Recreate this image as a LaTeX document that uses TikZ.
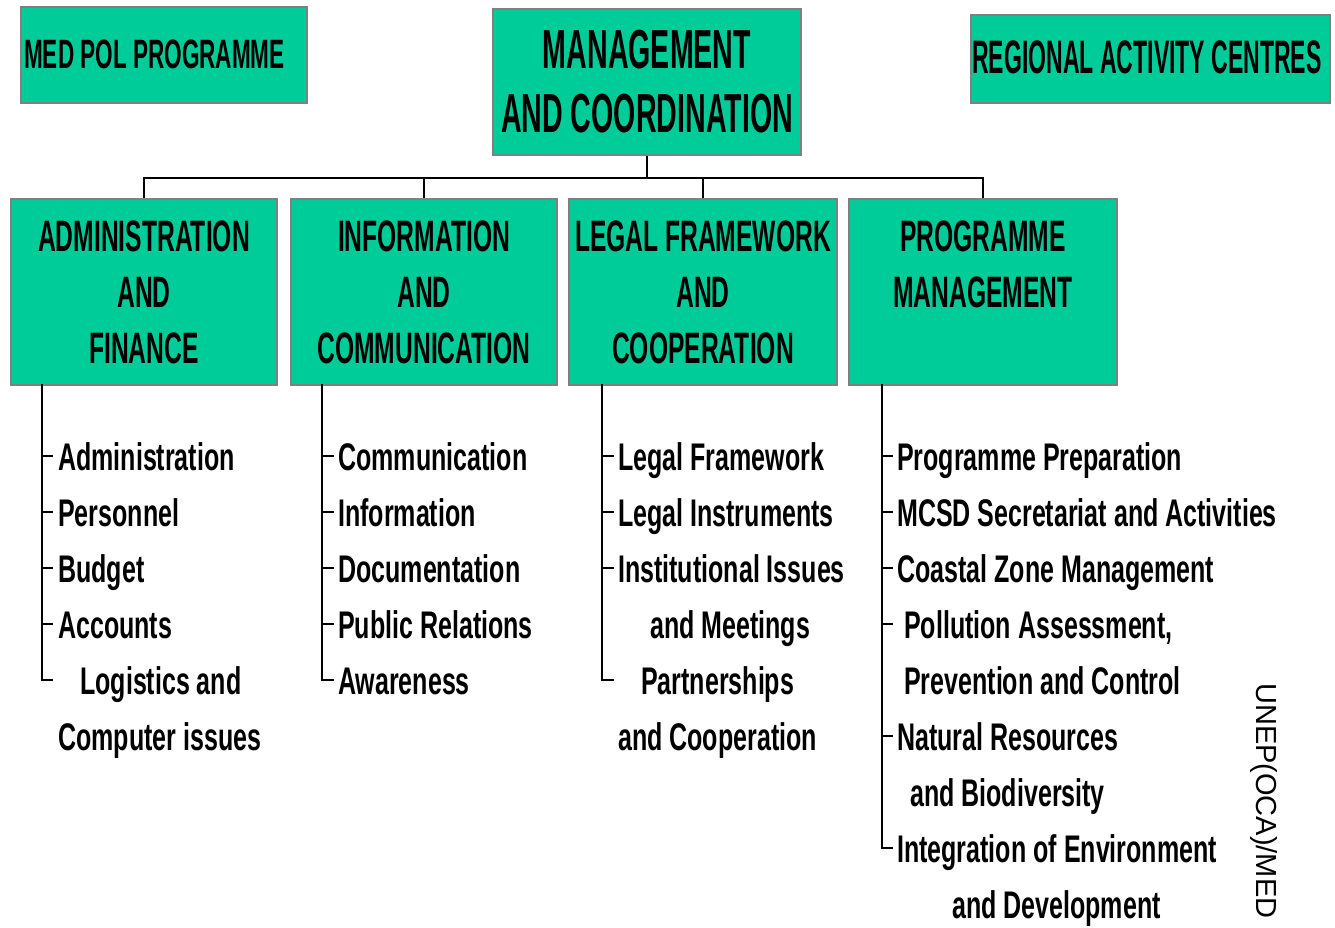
\documentclass[tikz,border=0pt]{standalone}
\usepackage{fontspec}
\setmainfont{Liberation Sans}
\newfontfamily\mgfont{Liberation Sans}[FakeStretch=0.52]
\newfontfamily\hdfont{Liberation Sans}[FakeStretch=0.56]
\newfontfamily\medfont{Liberation Sans}[FakeStretch=0.55]
\newfontfamily\racfont{Liberation Sans}[FakeStretch=0.49]
\newfontfamily\bodyfont{Liberation Sans}[FakeStretch=0.65]
\definecolor{boxgreen}{RGB}{0,204,153}
\definecolor{boxgray}{RGB}{128,128,128}
\begin{document}
\begin{tikzpicture}[x=1pt,y=-1pt,
  box/.style={draw=boxgray, line width=2pt, fill=boxgreen, inner sep=0pt, anchor=north west},
  hdbox/.style={box, minimum height=186pt, align=center, font=\hdfont\bfseries\fontsize{44}{56}\selectfont},
  conn/.style={line width=1.8pt, black},
  item/.style={anchor=base west, inner sep=0pt, font=\bodyfont\bfseries\fontsize{38.5}{46}\selectfont}]
\useasboundingbox (0,0) rectangle (1335,927);

% top boxes
\node[box, minimum width=286pt, minimum height=96pt] (medpol) at (20,6) {};
\node[anchor=west, inner sep=0pt, font=\medfont\bfseries\fontsize{41}{48}\selectfont] (medpolt) at (24,54) {MED POL PROGRAMME};
\node[box, minimum width=308pt, minimum height=146pt, align=center, font=\mgfont\bfseries\fontsize{55}{64}\selectfont] (mgmt) at (492,8) {MANAGEMENT\\AND COORDINATION};
\node[box, minimum width=359pt, minimum height=88pt] (rac) at (970,14) {};
\node[inner sep=0pt, font=\racfont\bfseries\fontsize{47}{54}\selectfont] (ract) at (1147,57) {REGIONAL ACTIVITY CENTRES};

% second row boxes
\node[hdbox, minimum width=266pt] (b1) at (10,198) {ADMINISTRATION\\AND\\FINANCE};
\node[hdbox, minimum width=266pt] (b2) at (290,198) {INFORMATION\\AND\\COMMUNICATION};
\node[hdbox, minimum width=268pt] (b3) at (568,198) {LEGAL FRAMEWORK\\AND\\COOPERATION};
\node[hdbox, minimum width=268pt] (b4) at (848,198) {PROGRAMME\\MANAGEMENT\\\phantom{A}};

% connectors
\coordinate (hub) at ([yshift=-22pt]mgmt.south);
\draw[conn] (mgmt.south) -- (hub);
\foreach \b in {b1,b2,b3,b4} \draw[conn] (\b.north) |- (hub);

% column 1
\coordinate (v1) at (42,384);
\draw[conn] (v1) -- (42,680) -- (53,680);
\foreach \r in {0,1,2,3} \draw[conn] (42,456+56*\r) -- (53,456+56*\r);
\node[item] (a1) at (58,470) {Administration};
\node[item] (a2) at (58,526) {Personnel};
\node[item] (a3) at (58,582) {Budget};
\node[item] (a4) at (58,638) {Accounts};
\node[item] (a5) at (80,694) {Logistics and};
\node[item] (a6) at (58,750) {Computer issues};

% column 2
\coordinate (v2) at (322,384);
\draw[conn] (v2) -- (322,680) -- (334,680);
\foreach \r in {0,1,2,3} \draw[conn] (322,456+56*\r) -- (334,456+56*\r);
\node[item] (i1) at (338,470) {Communication};
\node[item] (i2) at (338,526) {Information};
\node[item] (i3) at (338,582) {Documentation};
\node[item] (i4) at (338,638) {Public Relations};
\node[item] (i5) at (338,694) {Awareness};

% column 3
\coordinate (v3) at (602,384);
\draw[conn] (v3) -- (602,680) -- (614,680);
\foreach \r in {0,1,2} \draw[conn] (602,456+56*\r) -- (614,456+56*\r);
\node[item] (l1) at (618,470) {Legal Framework};
\node[item] (l2) at (618,526) {Legal Instruments};
\node[item] (l3) at (618,582) {Institutional Issues};
\node[item] (l4) at (650,638) {and Meetings};
\node[item] (l5) at (641,694) {Partnerships};
\node[item] (l6) at (618,750) {and Cooperation};

% column 4
\coordinate (v4) at (882,384);
\draw[conn] (v4) -- (882,848) -- (893,848);
\foreach \r in {0,1,2,3,5} \draw[conn] (882,456+56*\r) -- (893,456+56*\r);
\node[item] (p1) at (897,470) {Programme Preparation};
\node[item] (p2) at (897,526) {MCSD Secretariat and Activities};
\node[item] (p3) at (897,582) {Coastal Zone Management};
\node[item] (p4) at (904,638) {Pollution Assessment,};
\node[item] (p5) at (904,694) {Prevention and Control};
\node[item] (p6) at (897,750) {Natural Resources};
\node[item] (p7) at (910,806) {and Biodiversity};
\node[item] (p8) at (897,862) {Integration of Environment};
\node[item] (p9) at (952,918) {and Development};

% side reference
\node[anchor=base west, rotate=-90, inner sep=0pt, font=\fontsize{29}{34}\selectfont] (ref) at (1256,683) {UNEP(OCA)/MED};
\end{tikzpicture}
\end{document}
